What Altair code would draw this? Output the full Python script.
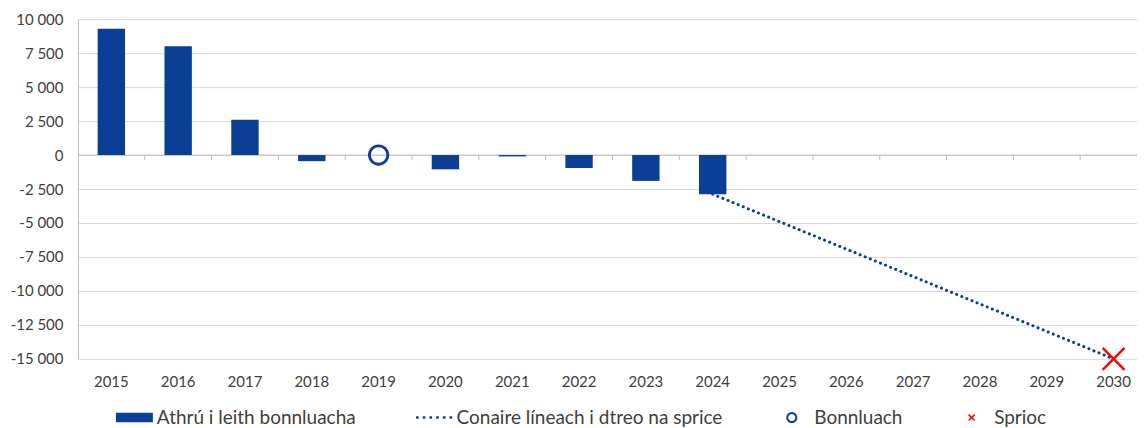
import math
import altair as alt
import pandas as pd

# ---------------- data ----------------
years = [str(y) for y in range(2015, 2031)]
bar_years = ["2015", "2016", "2017", "2018", "2019", "2020", "2021", "2022", "2023", "2024"]
bar_values = [9300, 8000, 2600, -450, 0, -1050, -100, -950, -1900, -2880]
path_years = ["2024", "2030"]
path_values = [-2880, -15000]
baseline_years = ["2019"]
baseline_values = [0]
target_years = ["2030"]
target_values = [-15000]
y_ticks = [-15000, -12500, -10000, -7500, -5000, -2500, 0, 2500, 5000, 7500, 10000]
zero_value = [0]
series = ["Athrú i leith bonnluacha", "Conaire líneach i dtreo na sprice", "Bonnluach", "Sprioc"]

# ---------------- styles ----------------
BLUE = "#0B3F95"
RED = "#FF0000"
GRID = "#D9D9D9"
AXISC = "#BFBFBF"
TEXT = "#404040"
FONT = "Lato"


def poly(points):
    return "M" + "L".join(f"{x:.3f},{y:.3f}" for x, y in points) + "Z"


def circle_path(r, n=32, reverse=False):
    pts = [(r * math.cos(2 * math.pi * k / n), r * math.sin(2 * math.pi * k / n)) for k in range(n)]
    if reverse:
        pts = pts[::-1]
    return poly(pts)


swatch_shape = poly([(-3.7, -0.95), (3.7, -0.95), (3.7, 0.95), (-3.7, 0.95)])
dots_shape = "".join(
    poly([(c - 0.26, -0.26), (c + 0.26, -0.26), (c + 0.26, 0.26), (c - 0.26, 0.26)])
    for c in [-3.35, -2.01, -0.67, 0.67, 2.01, 3.35]
)
ring_shape = circle_path(1.1) + circle_path(0.70, reverse=True)
e, n = 0.6, 0.11
x_shape = poly([(-e + n, -e - n), (e + n, e - n), (e - n, e + n), (-e - n, -e + n)]) + \
    poly([(-e - n, e - n), (e - n, -e - n), (e + n, -e + n), (-e + n, e + n)])

legend_shapes = [swatch_shape, dots_shape, ring_shape, x_shape]
legend_colors = [BLUE, BLUE, BLUE, RED]

# ---------------- tables ----------------
bars_df = pd.DataFrame({"year": bar_years, "value": bar_values})
path_df = pd.DataFrame({"year": path_years, "value": path_values})
base_df = pd.DataFrame({"year": baseline_years, "value": baseline_values})
target_df = pd.DataFrame({"year": target_years, "value": target_values})
bound_df = pd.DataFrame({"year": years[1:]})
zero_df = pd.DataFrame({"value": zero_value})
legend_df = pd.DataFrame({"series": series})

xscale = alt.Scale(domain=years, paddingInner=0, paddingOuter=0)
yscale = alt.Scale(domain=[-15000, 10000], nice=False, zero=False)

x_axis = alt.Axis(title=None, labelAngle=0, domain=False, ticks=False, tickSize=0,
                  labelPadding=16, grid=False)
y_axis = alt.Axis(title=None, values=y_ticks, tickCount=11, grid=True, gridColor=GRID, gridWidth=1,
                  domain=True, domainColor=AXISC, ticks=False, tickSize=0, labelPadding=15,
                  labelOverlap=False, minExtent=70, maxExtent=70,
                  labelExpr="(datum.value < 0 ? '-' : '') + replace(format(abs(datum.value), ','), /,/g, ' ')")

X = alt.X("year:N", scale=xscale, axis=x_axis)
Y = alt.Y("value:Q", scale=yscale, axis=y_axis)

zero_rule = alt.Chart(zero_df).mark_rule(color=AXISC, strokeWidth=1).encode(y=Y)

bound_ticks = alt.Chart(bound_df).mark_rule(color=AXISC, strokeWidth=1, y2Offset=5).encode(
    x=alt.X("year:N", scale=xscale, axis=x_axis, bandPosition=0),
    y=alt.datum(0),
    y2=alt.datum(0),
)

bars = alt.Chart(bars_df).mark_bar(color=BLUE, width=alt.RelativeBandSize(0.41)).encode(x=X, y=Y)

path_line = alt.Chart(path_df).mark_line(
    color=BLUE, strokeWidth=3, strokeDash=[0.1, 5.4], strokeCap="round"
).encode(x=X, y=Y)

ring = alt.Chart(base_df).mark_point(
    shape="circle", filled=False, strokeWidth=2.8, size=340, color=BLUE, opacity=1
).encode(x=X, y=Y)

target = alt.Chart(target_df).mark_point(
    shape="M-1,-1L1,1M-1,1L1,-1", filled=False, strokeWidth=2.4, size=480, color=RED, opacity=1
).encode(x=X, y=Y)

legend = alt.Legend(
    title=None, orient="none", legendX=47, legendY=389, direction="horizontal",
    symbolSize=100, labelOffset=13, columnPadding=59, labelFont=FONT, labelFontSize=19,
    labelColor=TEXT, labelLimit=600, symbolStrokeWidth=0,
)

legend_layer = alt.Chart(legend_df).transform_filter("false").mark_point(
    filled=True, strokeWidth=0, opacity=1
).encode(
    color=alt.Color("series:N", scale=alt.Scale(domain=series, range=legend_colors), legend=legend),
    shape=alt.Shape("series:N", scale=alt.Scale(domain=series, range=legend_shapes), legend=legend),
)

chart = alt.layer(zero_rule, bound_ticks, bars, path_line, ring, target, legend_layer).properties(
    width=1070, height=340,
    padding={"left": 0, "top": 4, "right": -11, "bottom": 0},
).configure_view(strokeWidth=0).configure_axis(
    labelFont=FONT, labelFontSize=15, labelColor=TEXT
)

chart.save("out.html", embed_options={"renderer": "svg", "actions": False})
